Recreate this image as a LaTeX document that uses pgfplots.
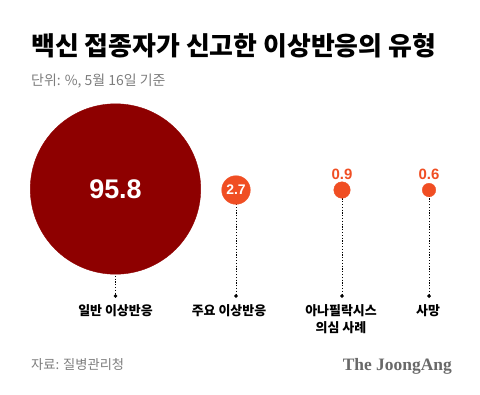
\documentclass[border=0pt]{standalone}
\usepackage{fontspec}
\setmainfont{Noto Sans CJK KR}
\newfontfamily\numfont{Liberation Sans}
\newfontfamily\logofont{Liberation Serif}
\usepackage{pgfplots}
\pgfplotsset{compat=1.18}
\definecolor{darkred}{RGB}{142,0,0}
\definecolor{orng}{RGB}{240,78,35}
\definecolor{subgray}{RGB}{125,125,125}
\definecolor{logogray}{RGB}{105,105,105}

\begin{document}
\begin{tikzpicture}
\begin{axis}[
 width=480bp, height=394bp, scale only axis,
 xmin=0,xmax=480,ymin=0,ymax=394, y dir=reverse,
 hide axis, clip=false,
 point meta=explicit symbolic,
]
\path (rel axis cs:0,0) rectangle (rel axis cs:1,1);
% stems
\addplot[black, line width=0.9bp, dash pattern=on 1.2bp off 1.6bp] coordinates {(115.5,189) (115.5,296)};
\addplot[black, line width=0.9bp, dash pattern=on 1.2bp off 1.6bp] coordinates {(236,190) (236,296)};
\addplot[black, line width=0.9bp, dash pattern=on 1.2bp off 1.6bp] coordinates {(342,190) (342,296)};
\addplot[black, line width=0.9bp, dash pattern=on 1.2bp off 1.6bp] coordinates {(429,190) (429,296)};
\addplot[only marks, mark=*, mark size=1.7bp, black] coordinates {(115.5,296) (236,296) (342,296) (429,296)};
% bubbles (area proportional to value: 95.8, 2.7, 0.9, 0.6)
\addplot[only marks, mark=*, mark size=85.2bp, draw=darkred, fill=darkred,
  nodes near coords, every node near coord/.style={anchor=center, inner sep=0, text=white, font=\fontsize{27}{30}\selectfont\numfont\bfseries}]
  coordinates {(115.5,189) [95.8]};
\addplot[only marks, mark=*, mark size=14.3bp, draw=orng, fill=orng,
  nodes near coords, every node near coord/.style={anchor=center, inner sep=0, text=white, font=\fontsize{14}{16}\selectfont\numfont\bfseries}]
  coordinates {(236,190) [2.7]};
\addplot[only marks, mark=*, mark size=8.25bp, draw=orng, fill=orng,
  nodes near coords, every node near coord/.style={anchor=center, yshift=16bp, inner sep=0, text=orng, font=\fontsize{15}{17}\selectfont\numfont\bfseries}]
  coordinates {(342,190) [0.9]};
\addplot[only marks, mark=*, mark size=6.75bp, draw=orng, fill=orng,
  nodes near coords, every node near coord/.style={anchor=center, yshift=16bp, inner sep=0, text=orng, font=\fontsize{15}{17}\selectfont\numfont\bfseries}]
  coordinates {(429,190) [0.6]};
% category labels
\node[anchor=base, inner sep=0, font=\fontsize{13}{17}\selectfont\bfseries] at (axis cs:115.5,315) {일반 이상반응};
\node[anchor=base, inner sep=0, font=\fontsize{13}{17}\selectfont\bfseries] at (axis cs:229,315) {주요 이상반응};
\node[anchor=base, inner sep=0, font=\fontsize{13}{17}\selectfont\bfseries] at (axis cs:341,315) {아나필락시스};
\node[anchor=base, inner sep=0, font=\fontsize{13}{17}\selectfont\bfseries] at (axis cs:341,332) {의심 사례};
\node[anchor=base, inner sep=0, font=\fontsize{13}{17}\selectfont\bfseries] at (axis cs:428,315) {사망};
% title etc.
\node[anchor=base west, inner sep=0, font=\fontsize{26}{30}\selectfont\bfseries] at (axis cs:31,55) {백신 접종자가 신고한 이상반응의 유형};
\node[anchor=base west, inner sep=0, subgray, font=\fontsize{14}{16}\selectfont] at (axis cs:31,85) {단위: \%, 5월 16일 기준};
\node[anchor=base west, inner sep=0, subgray, font=\fontsize{13.3}{16}\selectfont] at (axis cs:31,369) {자료: 질병관리청};
\node[anchor=base east, inner sep=0, logogray, font=\fontsize{17.5}{20}\selectfont\logofont\bfseries] at (axis cs:452,370) {The JoongAng};
\end{axis}
\end{tikzpicture}
\end{document}
